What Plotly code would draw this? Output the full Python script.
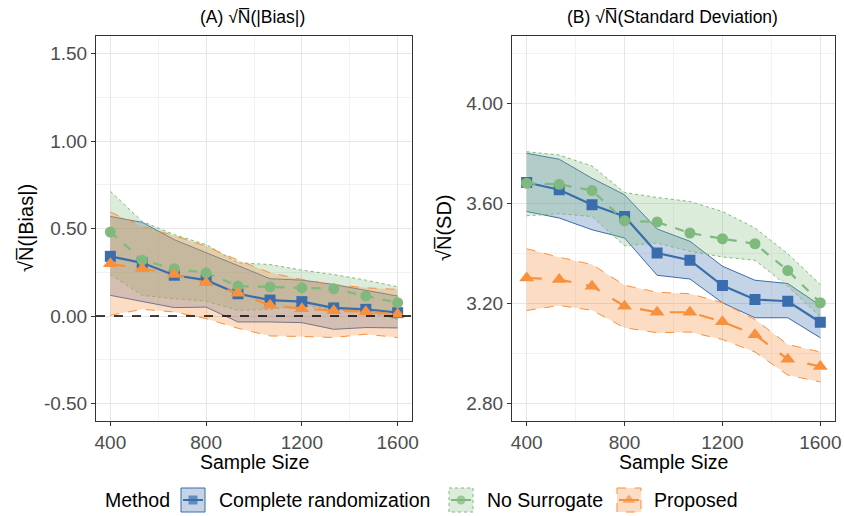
import plotly.graph_objects as go

sample_size = [400, 533, 667, 800, 933, 1067, 1200, 1333, 1467, 1600]
methods = ["Complete randomization", "No Surrogate", "Proposed"]

# Panel A: sqrt(N)|Bias|
bias_cr_mean = [0.341, 0.304, 0.233, 0.205, 0.127, 0.091, 0.082, 0.046, 0.038, 0.019]
bias_cr_upper = [0.569, 0.535, 0.436, 0.364, 0.288, 0.213, 0.205, 0.180, 0.148, 0.114]
bias_cr_lower = [0.118, 0.085, 0.048, 0.051, -0.034, -0.034, -0.038, -0.076, -0.066, -0.068]

bias_ns_mean = [0.480, 0.319, 0.270, 0.247, 0.171, 0.167, 0.161, 0.156, 0.114, 0.076]
bias_ns_upper = [0.713, 0.540, 0.465, 0.408, 0.304, 0.294, 0.262, 0.237, 0.205, 0.167]
bias_ns_lower = [0.237, 0.118, 0.099, 0.085, 0.032, 0.038, 0.061, 0.038, 0.023, -0.019]

bias_pr_mean = [0.298, 0.270, 0.237, 0.190, 0.130, 0.061, 0.042, 0.030, 0.025, 0.010]
bias_pr_upper = [0.594, 0.512, 0.459, 0.398, 0.319, 0.247, 0.209, 0.180, 0.161, 0.152]
bias_pr_lower = [0.004, 0.038, 0.023, -0.015, -0.070, -0.114, -0.117, -0.123, -0.104, -0.123]

# Panel B: sqrt(N) SD
sd_cr_mean = [3.684, 3.655, 3.595, 3.548, 3.402, 3.373, 3.272, 3.216, 3.209, 3.125]
sd_cr_upper = [3.801, 3.777, 3.701, 3.635, 3.498, 3.449, 3.349, 3.293, 3.280, 3.192]
sd_cr_lower = [3.568, 3.542, 3.495, 3.462, 3.313, 3.298, 3.203, 3.143, 3.143, 3.063]

sd_ns_mean = [3.681, 3.677, 3.652, 3.531, 3.526, 3.482, 3.459, 3.439, 3.332, 3.203]
sd_ns_upper = [3.807, 3.794, 3.750, 3.644, 3.624, 3.608, 3.568, 3.502, 3.399, 3.276]
sd_ns_lower = [3.551, 3.559, 3.548, 3.431, 3.442, 3.409, 3.386, 3.373, 3.269, 3.147]

sd_pr_mean = [3.302, 3.296, 3.269, 3.189, 3.165, 3.165, 3.127, 3.075, 2.977, 2.948]
sd_pr_upper = [3.419, 3.385, 3.356, 3.273, 3.245, 3.239, 3.203, 3.136, 3.036, 3.006]
sd_pr_lower = [3.172, 3.192, 3.173, 3.103, 3.083, 3.086, 3.056, 3.006, 2.914, 2.886]

x_ticks = [400, 800, 1200, 1600]
bias_ticks = [-0.5, 0.0, 0.5, 1.0, 1.5]
bias_ticklabels = ["-0.50", "0.00", "0.50", "1.00", "1.50"]
sd_ticks = [2.8, 3.2, 3.6, 4.0]
sd_ticklabels = ["2.80", "3.20", "3.60", "4.00"]

colors = {"Complete randomization": "#3A6DAD",
          "No Surrogate": "#80B97E",
          "Proposed": "#F7913D"}
fills = {"Complete randomization": "rgba(58,109,173,0.30)",
         "No Surrogate": "rgba(128,185,126,0.28)",
         "Proposed": "rgba(250,140,60,0.30)"}
band_dash = {"Complete randomization": "solid", "No Surrogate": "dot", "Proposed": "dash"}
mean_dash = {"Complete randomization": "solid", "No Surrogate": "dash", "Proposed": "longdash"}
symbols = {"Complete randomization": "square", "No Surrogate": "circle", "Proposed": "triangle-up"}
msize = {"Complete randomization": 11, "No Surrogate": 11, "Proposed": 13}

panelA = {"Complete randomization": (bias_cr_mean, bias_cr_lower, bias_cr_upper),
          "No Surrogate": (bias_ns_mean, bias_ns_lower, bias_ns_upper),
          "Proposed": (bias_pr_mean, bias_pr_lower, bias_pr_upper)}
panelB = {"Complete randomization": (sd_cr_mean, sd_cr_lower, sd_cr_upper),
          "No Surrogate": (sd_ns_mean, sd_ns_lower, sd_ns_upper),
          "Proposed": (sd_pr_mean, sd_pr_lower, sd_pr_upper)}

FONT = "Liberation Sans, Arial, sans-serif"
W, H = 844, 516

fig = go.Figure()

def add_panel(data, xa, ya):
    for m in methods:
        mean, lo, hi = data[m]
        fig.add_trace(go.Scatter(x=sample_size, y=lo, mode="lines", xaxis=xa, yaxis=ya,
                                 line=dict(color=colors[m], width=1, dash=band_dash[m]),
                                 showlegend=False, hoverinfo="skip"))
        fig.add_trace(go.Scatter(x=sample_size, y=hi, mode="lines", xaxis=xa, yaxis=ya,
                                 fill="tonexty", fillcolor=fills[m],
                                 line=dict(color=colors[m], width=1, dash=band_dash[m]),
                                 showlegend=False, hoverinfo="skip"))
    for m in methods:
        mean, lo, hi = data[m]
        fig.add_trace(go.Scatter(x=sample_size, y=mean, mode="lines+markers", xaxis=xa, yaxis=ya,
                                 line=dict(color=colors[m], width=2.2, dash=mean_dash[m]),
                                 marker=dict(symbol=symbols[m], size=msize[m], color=colors[m]),
                                 showlegend=False))

add_panel(panelA, "x", "y")
add_panel(panelB, "x2", "y2")

# zero reference line in panel A
fig.add_trace(go.Scatter(x=[340, 1660], y=[0, 0], mode="lines", xaxis="x", yaxis="y",
                         line=dict(color="black", width=1.3, dash="dash"),
                         showlegend=False, hoverinfo="skip"))

# ---- manual legend (overlay axis in pixel units) ----
legend_key_left = {"Complete randomization": 181, "No Surrogate": 449, "Proposed": 617}
legend_text_left = {"Complete randomization": 217, "No Surrogate": 485, "Proposed": 652}
key_size = 24
legend_y = 500
shapes = []
annotations = []
for m in methods:
    x0 = legend_key_left[m]
    shapes.append(dict(type="rect", xref="x3", yref="y3", x0=x0, x1=x0 + key_size,
                       y0=legend_y - key_size / 2, y1=legend_y + key_size / 2,
                       fillcolor=fills[m], line=dict(color=colors[m], width=1, dash=band_dash[m]),
                       layer="below"))
    fig.add_trace(go.Scatter(x=[x0 + 2, x0 + key_size / 2, x0 + key_size - 2],
                             y=[legend_y] * 3, xaxis="x3", yaxis="y3",
                             mode="lines+markers",
                             line=dict(color=colors[m], width=2, dash="solid"),
                             marker=dict(symbol=symbols[m], size=[0, 9 if m != "Proposed" else 11, 0],
                                         color=colors[m], line=dict(width=0)),
                             showlegend=False, hoverinfo="skip"))
    annotations.append(dict(text=m, x=legend_text_left[m], y=legend_y, xref="x3", yref="y3",
                            xanchor="left", yanchor="middle", showarrow=False,
                            font=dict(size=19.5, color="black", family=FONT)))
annotations.append(dict(text="Method", x=103, y=legend_y, xref="x3", yref="y3",
                        xanchor="left", yanchor="middle", showarrow=False,
                        font=dict(size=19.5, color="black", family=FONT)))

# titles
annotations += [
    dict(text="(A) √N̅(|Bias|)", x=252, y=17, xref="x3", yref="y3",
         showarrow=False, font=dict(size=17.5, color="black", family=FONT),
         xanchor="center", yanchor="middle"),
    dict(text="(B) √N̅(Standard Deviation)", x=672, y=17, xref="x3", yref="y3",
         showarrow=False, font=dict(size=17.5, color="black", family=FONT),
         xanchor="center", yanchor="middle"),
    dict(text="Sample Size", x=254, y=462, xref="x3", yref="y3",
         showarrow=False, font=dict(size=19.5, color="black", family=FONT),
         xanchor="center", yanchor="middle"),
    dict(text="Sample Size", x=673, y=462, xref="x3", yref="y3",
         showarrow=False, font=dict(size=19.5, color="black", family=FONT),
         xanchor="center", yanchor="middle"),
    dict(text="√N̅(|Bias|)", x=26, y=228, xref="x3", yref="y3", textangle=-90,
         showarrow=False, font=dict(size=20, color="black", family=FONT),
         xanchor="center", yanchor="middle"),
    dict(text="√N̅(SD)", x=444, y=228, xref="x3", yref="y3", textangle=-90,
         showarrow=False, font=dict(size=20, color="black", family=FONT),
         xanchor="center", yanchor="middle"),
]

axis_common = dict(showline=True, mirror=True, linecolor="#333333", linewidth=1,
                   ticks="outside", ticklen=4, tickcolor="#333333", tickwidth=1,
                   showgrid=True, gridcolor="#E6E6E6", gridwidth=1.1, zeroline=False,
                   automargin=False,
                   tickfont=dict(size=19, color="#4D4D4D", family=FONT))

xa_common = dict(axis_common, range=[340, 1660], tickvals=x_ticks,
                 minor=dict(tickvals=[600, 1000, 1400], showgrid=True, gridcolor="#F2F2F2",
                            gridwidth=0.8, ticks=""))

fig.update_layout(
    width=W, height=H,
    margin=dict(l=0, r=0, t=0, b=0, autoexpand=False),
    paper_bgcolor="white", plot_bgcolor="rgba(0,0,0,0)",
    font=dict(family=FONT, color="black"),
    showlegend=False,
    xaxis=dict(xa_common, domain=[96 / W, 412 / W], anchor="y"),
    xaxis2=dict(xa_common, domain=[512 / W, 835 / W], anchor="y2"),
    yaxis=dict(axis_common, domain=[1 - 421 / H, 1 - 36 / H], anchor="x",
               range=[-0.6, 1.6], tickvals=bias_ticks, ticktext=bias_ticklabels,
               minor=dict(tickvals=[-0.25, 0.25, 0.75, 1.25], showgrid=True, gridcolor="#F2F2F2",
                          gridwidth=0.8, ticks="")),
    yaxis2=dict(axis_common, domain=[1 - 421 / H, 1 - 36 / H], anchor="x2",
                range=[2.73, 4.27], tickvals=sd_ticks, ticktext=sd_ticklabels,
                minor=dict(tickvals=[3.0, 3.4, 3.8, 4.2], showgrid=True, gridcolor="#F2F2F2",
                           gridwidth=0.8, ticks="")),
    xaxis3=dict(domain=[0, 1], range=[0, W], visible=False, fixedrange=True, anchor="y3"),
    yaxis3=dict(domain=[0, 1], range=[H, 0], visible=False, fixedrange=True, anchor="x3"),
    shapes=shapes,
    annotations=annotations,
)

fig.write_html("out.html", config={"displayModeBar": False},
               post_script="document.body.style.margin='0';document.body.style.padding='0';")
